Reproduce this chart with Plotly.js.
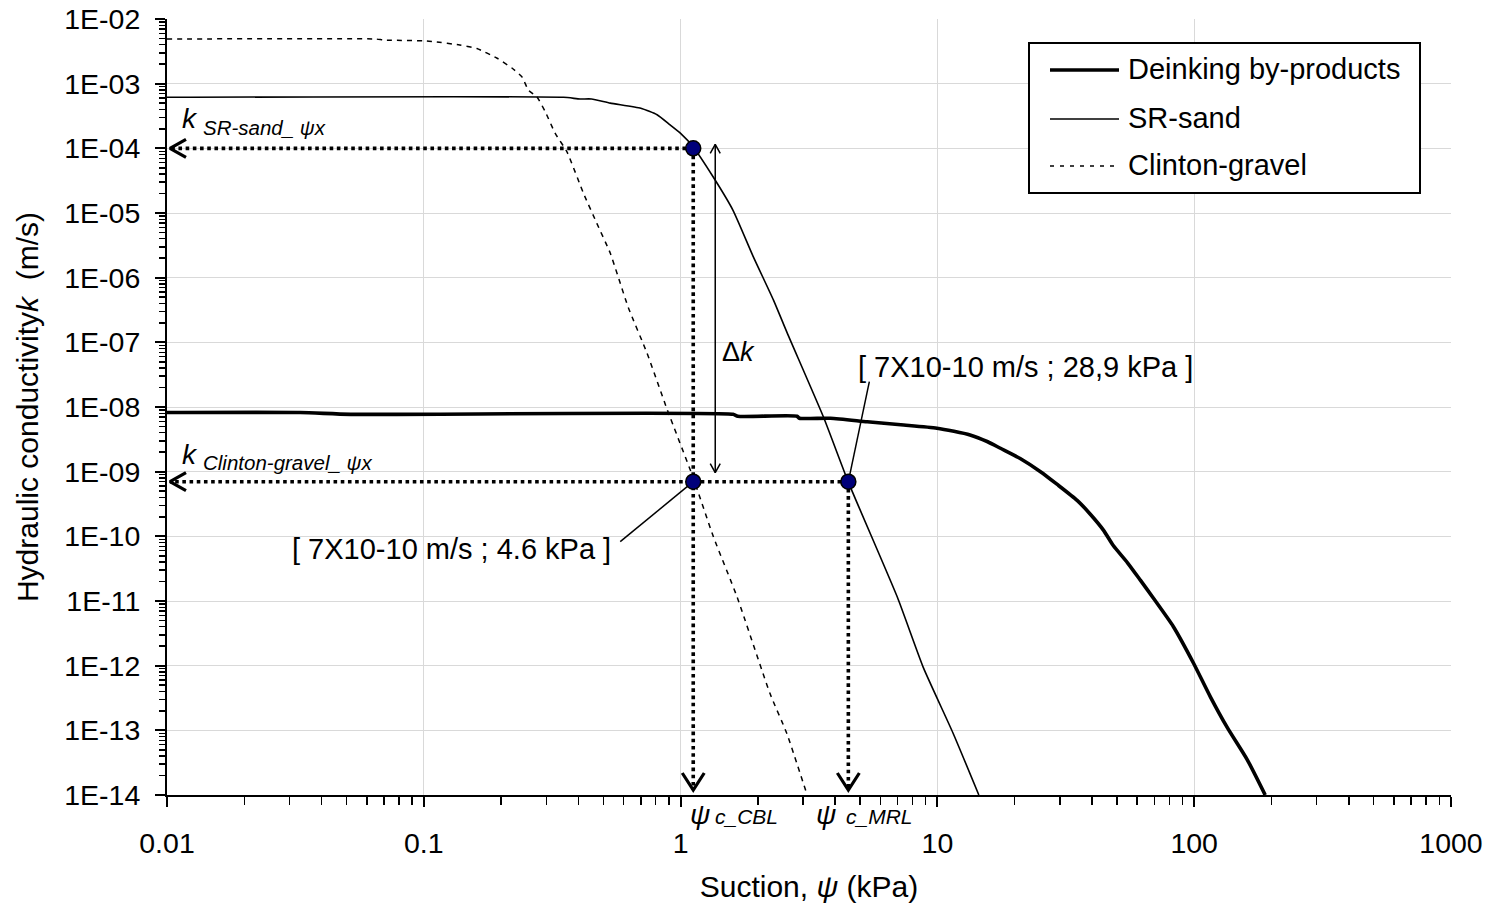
<!DOCTYPE html>
<html><head><meta charset="utf-8">
<script src="https://cdn.plot.ly/plotly-3.0.1.min.js"></script>
<style>html,body{margin:0;padding:0;background:#fff}#chart{width:1489px;height:909px}</style>
</head><body><div id="chart"></div>
<script>
// ---------------- DATA ----------------
const seriesNames = ['Deinking by-products', 'SR-sand', 'Clinton-gravel'];

const deinkingX = [0.01, 0.033, 0.052, 1.6, 1.67, 2.84, 2.9, 3.83, 5.33, 7.2, 9.96, 13.4, 15.7, 17.6, 21, 25.2, 29.2, 35, 39.4, 44.3, 48.4, 55, 61.7, 69.4, 83, 99.3, 115.6, 134.6, 161, 189];
const deinkingK = [8.2e-9, 8.2e-9, 7.7e-9, 7.7e-9, 7.2e-9, 7.2e-9, 6.7e-9, 6.7e-9, 5.9e-9, 5.3e-9, 4.7e-9, 3.7e-9, 2.9e-9, 2.3e-9, 1.6e-9, 1.0e-9, 6.4e-10, 3.6e-10, 2.2e-10, 1.25e-10, 7.2e-11, 3.9e-11, 2.1e-11, 1.1e-11, 4e-12, 1.1e-12, 3.3e-13, 1.1e-13, 3.5e-14, 1.0e-14];

const srSandX = [0.01, 0.35, 0.406, 0.45, 0.532, 0.70, 0.81, 0.91, 1.0, 1.12, 1.34, 1.6, 1.92, 2.3, 2.6, 3.6, 4.5, 6.98, 8.8, 11.5, 14.5];
const srSandK = [6.15e-4, 6.15e-4, 5.8e-4, 5.8e-4, 5.0e-4, 4.16e-4, 3.3e-4, 2.3e-4, 1.7e-4, 1.05e-4, 3.6e-5, 1.1e-5, 2.1e-6, 4.5e-7, 1.4e-7, 7e-9, 6.9e-10, 1.15e-11, 9.5e-13, 9.1e-14, 1.0e-14];

const clintonX = [0.01, 0.065, 0.07, 0.1, 0.11, 0.138, 0.161, 0.193, 0.221, 0.242, 0.255, 0.276, 0.297, 0.325, 0.361, 0.419, 0.472, 0.532, 0.625, 0.74, 0.888, 1.12, 1.34, 1.66, 2.23, 2.59, 3.11];
const clintonK = [4.9e-3, 4.9e-3, 4.73e-3, 4.6e-3, 4.45e-3, 3.96e-3, 3.5e-3, 2.47e-3, 1.73e-3, 1.25e-3, 8e-4, 6.2e-4, 3.7e-4, 1.7e-4, 8.8e-5, 2.0e-5, 6.9e-6, 2.4e-6, 3.5e-7, 6.8e-8, 9e-9, 8e-10, 1e-10, 1.15e-11, 3.7e-13, 9e-14, 1.0e-14];

// highlighted points (suction kPa, k m/s)
const pointX = [1.12, 1.12, 4.5];
const pointK = [1.0e-4, 7e-10, 7e-10];

const xTickVals = [0.01, 0.1, 1, 10, 100, 1000];
const xTickText = ['0.01', '0.1', '1', '10', '100', '1000'];
const yTickVals = [1e-2, 1e-3, 1e-4, 1e-5, 1e-6, 1e-7, 1e-8, 1e-9, 1e-10, 1e-11, 1e-12, 1e-13, 1e-14];
const yTickText = ['1E-02', '1E-03', '1E-04', '1E-05', '1E-06', '1E-07', '1E-08', '1E-09', '1E-10', '1E-11', '1E-12', '1E-13', '1E-14'];

const labelLow = '[ 7X10-10 m/s ; 4.6 kPa ]';
const labelHigh = '[ 7X10-10 m/s ; 28,9 kPa ]';

// ---------------- LAYOUT GEOMETRY ----------------
const W = 1489, H = 909, ML = 167, MR = 38, MT = 19, MB = 114;
const XR = [-2, 3], YR = [-14, -2];
const PW = W - ML - MR, PH = H - MT - MB;
const decX = PW / (XR[1] - XR[0]), decY = PH / (YR[1] - YR[0]);
const FONT = 'Liberation Sans, Arial, sans-serif';

// shift a data point by a pixel offset (dx right, dy down)
function shift(x, y, dx, dy) { return [x * Math.pow(10, dx / decX), y * Math.pow(10, -dy / decY)]; }
function px2x(px) { return (px - ML) / PW; }
function py2y(py) { return 1 - (py - MT) / PH; }

const xMin = Math.pow(10, XR[0]), yMin = Math.pow(10, YR[0]);

function minorVals(lo, hi) {
  const v = [];
  for (let e = lo; e < hi; e++) for (let m = 2; m <= 9; m++) v.push(m * Math.pow(10, e));
  return v;
}

const traces = [];

traces.push({x: clintonX, y: clintonK, mode: 'lines', name: seriesNames[2], showlegend: false,
  line: {color: '#000', width: 1.5, dash: '5px,5px', shape: 'spline', smoothing: 0.5}, hoverinfo: 'skip'});
traces.push({x: srSandX, y: srSandK, mode: 'lines', name: seriesNames[1], showlegend: false,
  line: {color: '#000', width: 1.6, shape: 'spline', smoothing: 0.5}, hoverinfo: 'skip'});
traces.push({x: deinkingX, y: deinkingK, mode: 'lines', name: seriesNames[0], showlegend: false,
  line: {color: '#000', width: 3.6, shape: 'spline', smoothing: 0.6}, hoverinfo: 'skip'});

// dotted guide arrows
const dotLine = {color: '#000', width: 3.6, dash: 'dot'};
const headLine = {color: '#000', width: 3.2};
function addHLeft(px0, py0) {
  const tip = shift(xMin, py0, 3, 0);
  traces.push({x: [px0, tip[0]], y: [py0, py0], mode: 'lines', line: dotLine, showlegend: false, hoverinfo: 'skip'});
  const a = shift(tip[0], tip[1], 16, -9), b = shift(tip[0], tip[1], 16, 9);
  traces.push({x: [a[0], tip[0], b[0]], y: [a[1], tip[1], b[1]], mode: 'lines', line: headLine, showlegend: false, hoverinfo: 'skip'});
}
function addVDown(px0, py0) {
  const tip = shift(px0, yMin, 0, -5);
  traces.push({x: [px0, px0], y: [py0, tip[1]], mode: 'lines', line: dotLine, showlegend: false, hoverinfo: 'skip'});
  const a = shift(tip[0], tip[1], -11, -17), b = shift(tip[0], tip[1], 11, -17);
  traces.push({x: [a[0], tip[0], b[0]], y: [a[1], tip[1], b[1]], mode: 'lines', line: headLine, showlegend: false, hoverinfo: 'skip'});
}
addHLeft(pointX[0], pointK[0]);
addHLeft(pointX[2], pointK[2]);
addVDown(pointX[0], pointK[0]);
addVDown(pointX[2], pointK[2]);

// delta-k double arrow
(function () {
  const top = shift(pointX[0], pointK[0], 22, -4);
  const bot = shift(pointX[1], pointK[1], 22, -9);
  const thin = {color: '#000', width: 1.5};
  traces.push({x: [top[0], bot[0]], y: [top[1], bot[1]], mode: 'lines', line: thin, showlegend: false, hoverinfo: 'skip'});
  const a = shift(top[0], top[1], -5, 9), b = shift(top[0], top[1], 5, 9);
  traces.push({x: [a[0], top[0], b[0]], y: [a[1], top[1], b[1]], mode: 'lines', line: thin, showlegend: false, hoverinfo: 'skip'});
  const c = shift(bot[0], bot[1], -5, -9), d = shift(bot[0], bot[1], 5, -9);
  traces.push({x: [c[0], bot[0], d[0]], y: [c[1], bot[1], d[1]], mode: 'lines', line: thin, showlegend: false, hoverinfo: 'skip'});
})();

// leader lines to the labelled points
(function () {
  const thin = {color: '#000', width: 1.5};
  const l1 = shift(pointX[1], pointK[1], -73, 60);
  traces.push({x: [pointX[1], l1[0]], y: [pointK[1], l1[1]], mode: 'lines', line: thin, showlegend: false, hoverinfo: 'skip'});
  const l2 = shift(pointX[2], pointK[2], 21, -100);
  traces.push({x: [pointX[2], l2[0]], y: [pointK[2], l2[1]], mode: 'lines', line: thin, showlegend: false, hoverinfo: 'skip'});
})();

// points
traces.push({x: pointX, y: pointK, mode: 'markers', showlegend: false, hoverinfo: 'skip',
  marker: {size: 15, color: '#00007a', line: {color: '#000', width: 1.5}}});

// ---------------- ANNOTATIONS ----------------
function txt(text, px, py, size, xanchor, extra) {
  return Object.assign({xref: 'paper', yref: 'paper', x: px2x(px), y: py2y(py), text: text, showarrow: false,
    xanchor: xanchor || 'left', yanchor: 'middle', font: {family: FONT, size: size, color: '#000'}}, extra || {});
}
const annotations = [
  txt(labelLow, 613, 549, 29, 'right'),
  txt(labelHigh, 856, 367, 29, 'left'),
  txt('<i>k</i>', 180, 119, 28),
  txt('<i>SR-sand_ ψx</i>', 201, 127.5, 20.5),
  txt('<i>k</i>', 180, 454, 28),
  txt('<i>Clinton-gravel_ ψx</i>', 201, 462.5, 20.5),
  txt('Δ<i>k</i>', 720, 352, 27),
  txt('<i>ψ</i>', 688, 815, 28),
  txt('<i>c_CBL</i>', 713, 816.5, 21),
  txt('<i>ψ</i>', 814, 815, 28),
  txt('<i>c_MRL</i>', 844, 816.5, 21),
  // legend texts
  txt(seriesNames[0], 1126, 69, 29),
  txt(seriesNames[1], 1126, 118, 29),
  txt(seriesNames[2], 1126, 165, 29)
];

const shapes = [
  {type: 'rect', xref: 'paper', yref: 'paper', x0: px2x(1029), x1: px2x(1420), y0: py2y(43), y1: py2y(193),
    line: {color: '#000', width: 2}, fillcolor: '#fff', layer: 'above'},
  {type: 'line', xref: 'paper', yref: 'paper', x0: px2x(1050), x1: px2x(1119), y0: py2y(70), y1: py2y(70),
    line: {color: '#000', width: 3.6}, layer: 'above'},
  {type: 'line', xref: 'paper', yref: 'paper', x0: px2x(1050), x1: px2x(1119), y0: py2y(119), y1: py2y(119),
    line: {color: '#000', width: 1.6}, layer: 'above'},
  {type: 'line', xref: 'paper', yref: 'paper', x0: px2x(1050), x1: px2x(1119), y0: py2y(166), y1: py2y(166),
    line: {color: '#000', width: 1.5, dash: '4px,6px'}, layer: 'above'}
];

const layout = {
  width: W, height: H,
  margin: {l: ML, r: MR, t: MT, b: MB, pad: 0},
  paper_bgcolor: '#fff', plot_bgcolor: '#fff',
  font: {family: FONT, color: '#000'},
  showlegend: false,
  xaxis: {
    type: 'log', range: XR, autorange: false, automargin: false,
    tickmode: 'array', tickvals: xTickVals, ticktext: xTickText,
    tickfont: {family: FONT, size: 28.5, color: '#000'},
    ticks: 'outside', ticklen: 10, tickwidth: 2, tickcolor: '#000', ticklabelstandoff: 12,
    showline: true, linecolor: '#000', linewidth: 2, mirror: false, zeroline: false,
    showgrid: true, gridcolor: '#d9d9d9', gridwidth: 1,
    minor: {ticks: 'outside', ticklen: 8, tickwidth: 1.5, tickcolor: '#000', tickmode: 'array', tickvals: minorVals(-2, 3), showgrid: false},
    title: {text: 'Suction, <i>ψ</i> (kPa)', font: {family: FONT, size: 30, color: '#000'}, standoff: 18}
  },
  yaxis: {
    type: 'log', range: YR, autorange: false, automargin: false,
    tickmode: 'array', tickvals: yTickVals, ticktext: yTickText,
    tickfont: {family: FONT, size: 28.5, color: '#000'},
    ticks: 'outside', ticklen: 10, tickwidth: 2, tickcolor: '#000', ticklabelstandoff: 9,
    showline: true, linecolor: '#000', linewidth: 2, mirror: false, zeroline: false,
    showgrid: true, gridcolor: '#d9d9d9', gridwidth: 1,
    minor: {ticks: 'outside', ticklen: 6, tickwidth: 1.5, tickcolor: '#000', tickmode: 'array', tickvals: minorVals(-14, -2), showgrid: false},
    title: {text: 'Hydraulic conductivity<i>k</i>  (m/s)', font: {family: FONT, size: 30, color: '#000'}, standoff: 17}
  },
  annotations: annotations,
  shapes: shapes
};

Plotly.newPlot('chart', traces, layout, {staticPlot: true, displayModeBar: false});
</script>
</body></html>
